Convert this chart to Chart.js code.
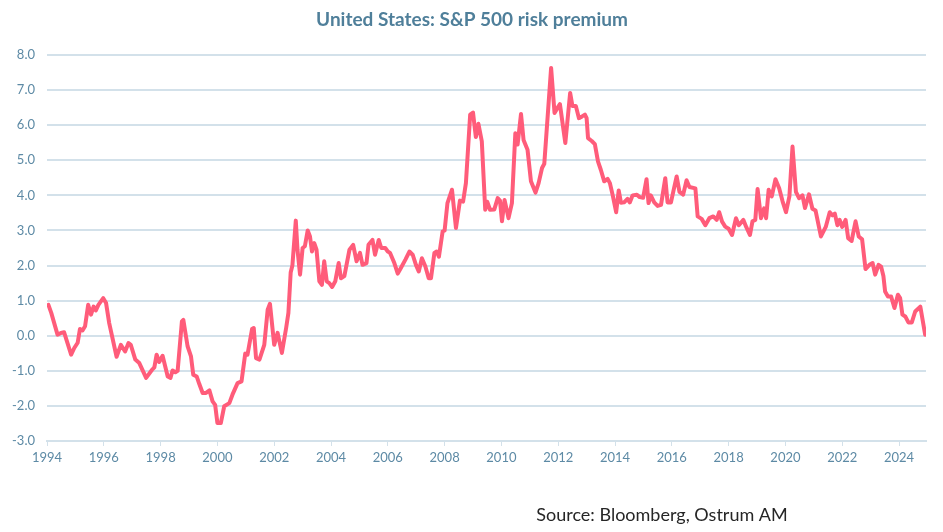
<!DOCTYPE html>
<html>
<head>
<meta charset="utf-8">
<title>United States: S&amp;P 500 risk premium</title>
<script src="https://cdn.jsdelivr.net/npm/chart.js@4"></script>
<style>
    html, body {
        margin: 0;
        padding: 0;
        background: #ffffff;
    }

    .chart-box {
        position: relative;
        width: 943px;
        height: 532px;
    }
</style>
</head>
<body>
<div class="chart-box">
    <canvas id="riskPremiumChart" width="943" height="532"></canvas>
</div>
<script>
const titleText = 'United States: S&P 500 risk premium';
const sourceText = 'Source: Bloomberg, Ostrum AM';

// decimal years
const dates = [
    1994.05, 1994.15, 1994.37, 1994.49, 1994.60, 1994.85, 1994.96, 1995.08, 1995.16, 1995.25,
    1995.34, 1995.45, 1995.55, 1995.64, 1995.72, 1995.81, 1995.98, 1996.08, 1996.19, 1996.45,
    1996.60, 1996.75, 1996.87, 1996.95, 1997.11, 1997.25, 1997.49, 1997.70, 1997.78, 1997.86,
    1997.95, 1998.07, 1998.25, 1998.35, 1998.42, 1998.52, 1998.60, 1998.75, 1998.80, 1998.95,
    1999.07, 1999.15, 1999.27, 1999.36, 1999.48, 1999.60, 1999.72, 1999.83, 1999.92, 2000.00,
    2000.12, 2000.24, 2000.42, 2000.53, 2000.71, 2000.85, 2000.98, 2001.06, 2001.22, 2001.28,
    2001.36, 2001.48, 2001.65, 2001.77, 2001.85, 2002.00, 2002.12, 2002.27, 2002.42, 2002.50,
    2002.58, 2002.64, 2002.76, 2002.82, 2002.91, 2003.00, 2003.08, 2003.18, 2003.26, 2003.33,
    2003.41, 2003.49, 2003.59, 2003.68, 2003.76, 2003.85, 2003.94, 2004.04, 2004.15, 2004.27,
    2004.35, 2004.47, 2004.65, 2004.78, 2004.90, 2005.02, 2005.11, 2005.25, 2005.32, 2005.46,
    2005.55, 2005.68, 2005.77, 2005.91, 2006.00, 2006.08, 2006.23, 2006.35, 2006.46, 2006.62,
    2006.76, 2006.88, 2006.99, 2007.09, 2007.20, 2007.32, 2007.44, 2007.52, 2007.64, 2007.72,
    2007.80, 2007.93, 2008.00, 2008.10, 2008.26, 2008.40, 2008.54, 2008.65, 2008.75, 2008.90,
    2009.00, 2009.10, 2009.19, 2009.31, 2009.43, 2009.50, 2009.60, 2009.75, 2009.87, 2009.95,
    2010.02, 2010.11, 2010.25, 2010.37, 2010.49, 2010.57, 2010.69, 2010.78, 2010.92, 2011.04,
    2011.20, 2011.31, 2011.43, 2011.51, 2011.75, 2011.87, 2011.98, 2012.06, 2012.25, 2012.42,
    2012.50, 2012.62, 2012.73, 2012.84, 2012.94, 2013.00, 2013.05, 2013.18, 2013.29, 2013.40,
    2013.50, 2013.62, 2013.74, 2013.82, 2013.92, 2014.04, 2014.13, 2014.21, 2014.32, 2014.44,
    2014.52, 2014.62, 2014.77, 2014.87, 2014.99, 2015.11, 2015.18, 2015.26, 2015.38, 2015.50,
    2015.62, 2015.77, 2015.85, 2015.97, 2016.05, 2016.17, 2016.27, 2016.40, 2016.52, 2016.62,
    2016.83, 2016.91, 2017.05, 2017.18, 2017.32, 2017.46, 2017.58, 2017.67, 2017.77, 2017.88,
    2018.00, 2018.12, 2018.26, 2018.36, 2018.52, 2018.62, 2018.75, 2018.84, 2018.94, 2019.02,
    2019.14, 2019.25, 2019.32, 2019.41, 2019.52, 2019.65, 2019.78, 2019.90, 2020.02, 2020.14,
    2020.25, 2020.37, 2020.48, 2020.60, 2020.69, 2020.83, 2020.95, 2021.06, 2021.25, 2021.42,
    2021.56, 2021.65, 2021.74, 2021.83, 2021.91, 2022.00, 2022.12, 2022.21, 2022.33, 2022.47,
    2022.58, 2022.70, 2022.82, 2022.96, 2023.07, 2023.16, 2023.28, 2023.37, 2023.45, 2023.51,
    2023.61, 2023.72, 2023.84, 2023.96, 2024.04, 2024.12, 2024.22, 2024.33, 2024.45, 2024.57,
    2024.75, 2024.92
];

const premium = [
    0.88, 0.65, 0.03, 0.08, 0.10, -0.54, -0.35, -0.20, 0.19, 0.15,
    0.27, 0.88, 0.60, 0.83, 0.72, 0.88, 1.07, 0.93, 0.36, -0.60,
    -0.26, -0.45, -0.21, -0.26, -0.68, -0.78, -1.20, -0.97, -0.90, -0.54,
    -0.75, -0.57, -1.16, -1.20, -0.99, -1.04, -1.00, 0.41, 0.45, -0.30,
    -0.59, -1.11, -1.16, -1.37, -1.63, -1.63, -1.56, -1.87, -1.97, -2.49,
    -2.49, -2.01, -1.92, -1.68, -1.35, -1.30, -0.51, -0.54, 0.19, 0.22,
    -0.64, -0.68, -0.26, 0.74, 0.91, -0.26, 0.08, -0.49, 0.22, 0.65,
    1.80, 2.00, 3.28, 2.45, 1.74, 2.50, 2.55, 3.00, 2.83, 2.40,
    2.64, 2.45, 1.55, 1.45, 2.12, 1.55, 1.50, 1.39, 1.55, 2.07,
    1.64, 1.70, 2.45, 2.59, 2.12, 2.36, 2.02, 2.07, 2.59, 2.73,
    2.31, 2.73, 2.50, 2.50, 2.40, 2.36, 2.07, 1.77, 1.93, 2.17,
    2.40, 2.30, 2.02, 1.83, 2.21, 1.98, 1.64, 1.64, 2.36, 2.40,
    2.25, 2.97, 3.00, 3.78, 4.16, 3.07, 3.85, 3.82, 4.35, 6.30,
    6.36, 5.66, 6.04, 5.54, 3.59, 3.82, 3.59, 3.60, 3.92, 3.85,
    3.26, 3.87, 3.35, 3.78, 5.77, 5.45, 6.32, 5.58, 5.30, 4.40,
    4.08, 4.35, 4.78, 4.90, 7.63, 6.35, 6.50, 6.60, 5.49, 6.92,
    6.55, 6.55, 6.20, 6.25, 6.30, 6.20, 5.63, 5.55, 5.46, 4.97,
    4.73, 4.40, 4.47, 4.35, 4.00, 3.52, 4.14, 3.79, 3.80, 3.90,
    3.80, 4.00, 4.02, 3.95, 3.93, 4.46, 3.78, 4.00, 3.80, 3.70,
    3.73, 4.49, 3.80, 3.80, 4.10, 4.54, 4.10, 4.02, 4.43, 4.24,
    4.20, 3.40, 3.33, 3.15, 3.35, 3.40, 3.30, 3.52, 3.25, 3.11,
    3.05, 2.87, 3.35, 3.15, 3.30, 3.10, 2.87, 3.26, 3.30, 4.18,
    3.35, 3.63, 3.35, 4.16, 3.97, 4.46, 4.20, 3.83, 3.52, 3.97,
    5.39, 4.10, 3.92, 4.00, 3.64, 4.03, 3.62, 3.57, 2.83, 3.10,
    3.52, 3.43, 3.48, 3.15, 3.30, 3.10, 3.30, 2.78, 2.70, 3.26,
    2.83, 2.75, 1.90, 2.02, 2.07, 1.74, 2.02, 1.97, 1.70, 1.26,
    1.12, 1.12, 0.79, 1.17, 1.07, 0.60, 0.55, 0.38, 0.38, 0.69,
    0.83, 0.03
];

const yearTicks = [1994, 1996, 1998, 2000, 2002, 2004, 2006, 2008, 2010, 2012, 2014, 2016, 2018, 2020, 2022, 2024];

(function () {
    const fontFamily = 'Lato, "Open Sans", sans-serif';
    const tickColor = '#5d8aa5';
    const gridColor = '#d3e1ea';

    const textPlugin = {
        id: 'chartTexts',
        afterDraw(chart) {
            const ctx = chart.ctx;
            ctx.save();
            ctx.textBaseline = 'middle';
            ctx.textAlign = 'center';
            ctx.fillStyle = '#4f7f9a';
            ctx.font = 'bold 19px ' + fontFamily;
            ctx.fillText(titleText, 472, 20);
            ctx.fillStyle = '#262626';
            ctx.font = '18px ' + fontFamily;
            ctx.fillText(sourceText, 662, 515);
            ctx.restore();
        },
    };

    function makeChart() {
        const canvas = document.getElementById('riskPremiumChart');

        if (!canvas || !window.Chart) {
            return;
        }

        const points = dates.map((d, i) => ({ x: d, y: premium[i] }));

        new Chart(canvas.getContext('2d'), {
            type: 'line',
            data: {
                datasets: [
                    {
                        label: 'S&P 500 risk premium',
                        data: points,
                        borderColor: '#ff5c7a',
                        borderWidth: 4,
                        pointRadius: 0,
                        tension: 0,
                        fill: false,
                        borderJoinStyle: 'round',
                        borderCapStyle: 'round',
                    },
                ],
            },
            options: {
                responsive: false,
                animation: false,
                layout: {
                    padding: { top: 55, right: 17, bottom: 61, left: 0 },
                },
                plugins: {
                    legend: { display: false },
                    tooltip: { enabled: false },
                },
                scales: {
                    x: {
                        type: 'linear',
                        min: 1994,
                        max: 2024.95,
                        afterBuildTicks(scale) {
                            scale.ticks = yearTicks.map((v) => ({ value: v }));
                        },
                        afterFit(scale) {
                            scale.height = 30;
                        },
                        grid: {
                            drawOnChartArea: false,
                            drawTicks: true,
                            tickLength: 5,
                            color: gridColor,
                        },
                        border: {
                            display: true,
                            color: gridColor,
                            width: 2,
                        },
                        ticks: {
                            color: tickColor,
                            padding: 4,
                            maxRotation: 0,
                            autoSkip: false,
                            font: { family: fontFamily, size: 13 },
                            callback: (v) => String(v),
                        },
                    },
                    y: {
                        min: -3,
                        max: 8,
                        afterFit(scale) {
                            scale.width = 47;
                        },
                        grid: {
                            color: gridColor,
                            lineWidth: 2,
                            drawTicks: false,
                        },
                        border: { display: false },
                        ticks: {
                            stepSize: 1,
                            color: tickColor,
                            padding: 12,
                            font: { family: fontFamily, size: 13 },
                            callback: (v) => v.toFixed(1),
                        },
                    },
                },
            },
            plugins: [textPlugin],
        });
    }

    document.addEventListener('DOMContentLoaded', makeChart);
})();
</script>
</body>
</html>
